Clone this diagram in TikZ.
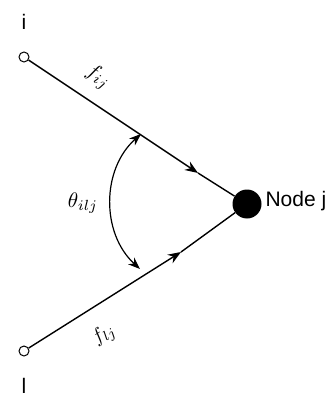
\documentclass[tikz,border=0pt]{standalone}
\usepackage{fontspec}
\setmainfont{Liberation Sans}
\usetikzlibrary{arrows.meta}
\begin{document}
\begin{tikzpicture}[x=1pt,y=-1pt,
  endpt/.style={circle,draw,line width=1pt,minimum size=10pt,inner sep=0pt},
  bignode/.style={circle,fill=black,minimum size=29pt,inner sep=0pt},
  edge/.style={line width=1.4pt},
  lbl/.style={font=\fontsize{21}{24}\selectfont},
  ar/.style={-{Stealth[length=13pt,width=10pt]}}
]
\useasboundingbox (0,0) rectangle (335,401);
\node[endpt] (i) at (24,57) {};
\node[endpt] (l) at (24,351) {};
\node[bignode] (j) at (247,204) {};
\node[lbl] (ti) at (24,22) {i};
\node[lbl] (tl) at (24,386) {l};
\node[lbl,anchor=west] (tj) at (262,201) {Node j};
\coordinate (a1) at (198,173);
\coordinate (a2) at (181,252);
\draw[edge,ar] (i) -- (a1);
\draw[edge] (a1) -- (j);
\draw[edge,ar] (l) -- (a2);
\draw[edge] (a2) -- (j);
\coordinate (b1) at (141,134);
\coordinate (b2) at (140,269);
\draw[line width=1.2pt,{Stealth[length=12pt,width=9pt]}-{Stealth[length=12pt,width=9pt]}] (b1) to[bend right=48] (b2);
\node[scale=2.1,rotate=-33.7] (fij) at (98,77) {$f_{ij}$};
\node[scale=2.0,rotate=33] (flj) at (104,335) {$f_{lj}$};
\node[scale=2.1] (th) at (83,203) {$\theta_{ilj}$};
\end{tikzpicture}
\end{document}
